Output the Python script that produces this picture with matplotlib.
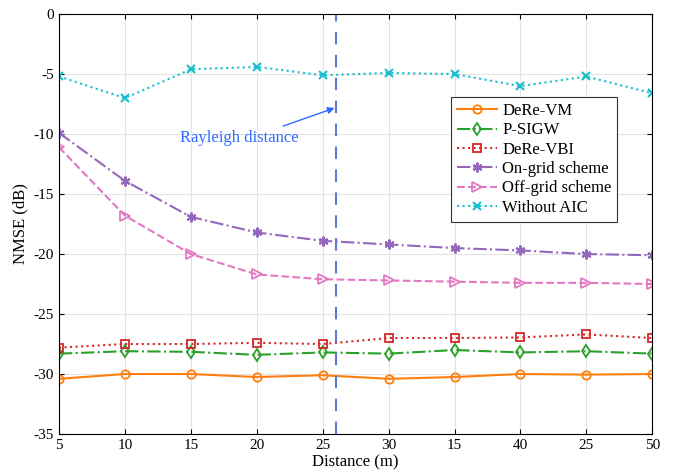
import numpy as np
from matplotlib import pyplot as plt

plt.rcParams['font.family'] = ['Liberation Serif', 'DejaVu Serif']
plt.rcParams['axes.unicode_minus'] = False

distance = [5, 10, 15, 20, 25, 30, 35, 40, 45, 50]
tick_labels = ["5", "10", "15", "20", "25", "30", "15", "40", "25", "50"]

dere_vm = [-30.4, -30.0, -30.0, -30.25, -30.1, -30.4, -30.25, -30.0, -30.05, -30.0]
p_sigw = [-28.3, -28.1, -28.15, -28.4, -28.2, -28.3, -28.0, -28.2, -28.1, -28.3]
dere_vbi = [-27.8, -27.5, -27.5, -27.4, -27.5, -27.0, -27.0, -26.95, -26.7, -27.0]
on_grid = [-9.9, -13.9, -16.9, -18.2, -18.9, -19.2, -19.5, -19.7, -20.0, -20.1]
off_grid = [-11.1, -16.8, -20.0, -21.7, -22.1, -22.2, -22.3, -22.4, -22.4, -22.5]
without_aic = [-5.2, -7.0, -4.6, -4.4, -5.1, -4.9, -5.0, -6.0, -5.2, -6.6]

rayleigh = 26

fig = plt.figure(figsize=(6.75, 4.75), dpi=100)
ax = fig.add_axes([0.0874, 0.0863, 0.879, 0.884])

ax.plot(distance, dere_vm, '-', color='#FF7F0E', marker='o', mfc='none', ms=6, lw=1.5, mew=1.3, label='DeRe-VM')
ax.plot(distance, p_sigw, '-.', color='#2CA02C', marker='d', mfc='none', ms=6.5, lw=1.5, mew=1.3, label='P-SIGW')
ax.plot(distance, dere_vbi, ':', color='#D62728', marker='s', mfc='none', ms=6, lw=1.5, mew=1.3, label='DeRe-VBI')
ax.plot(distance, on_grid, '-.', color='#9467BD', marker=(6, 2, 0), ms=7, lw=1.5, mew=1.5, label='On-grid scheme')
ax.plot(distance, off_grid, '--', color='#E377C2', marker='>', mfc='none', ms=6.5, lw=1.5, mew=1.3, label='Off-grid scheme')
ax.plot(distance, without_aic, ':', color='#17BECF', marker='x', mfc='none', ms=6, lw=1.5, mew=1.5, label='Without AIC')

ax.axvline(rayleigh, color='#5B7BD5', ls=(0, (6, 5)), lw=1.5)
ax.text(18.7, -10.35, 'Rayleigh distance', color='#2F6BFF', fontsize=12, ha='center', va='center')
ax.annotate('', xy=(25.9, -7.83), xytext=(22.0, -9.33),
            arrowprops=dict(arrowstyle='-|>', color='#2F6BFF', lw=1.0, shrinkA=0, shrinkB=0))

ax.set_xlim(5, 50)
ax.set_ylim(-35, 0)
ax.set_xticks(distance)
ax.set_xticklabels(tick_labels)
ax.set_yticks(np.arange(-35, 1, 5))
ax.tick_params(direction='in', top=True, right=True, labelsize=11)
ax.grid(True, color='#E3E3E3', lw=0.8)
ax.set_xlabel('Distance (m)', fontsize=12, labelpad=2)
ax.set_ylabel('NMSE (dB)', fontsize=12)
for s in ax.spines.values():
    s.set_linewidth(0.8)

leg = ax.legend(loc='upper right', bbox_to_anchor=(0.941, 0.802), borderaxespad=0, fontsize=12,
                fancybox=False, edgecolor='#333333', framealpha=1,
                handlelength=2.4, handletextpad=0.3, borderpad=0.35, labelspacing=0.2)
leg.get_frame().set_linewidth(0.8)

fig.savefig('out.png', dpi=100)
